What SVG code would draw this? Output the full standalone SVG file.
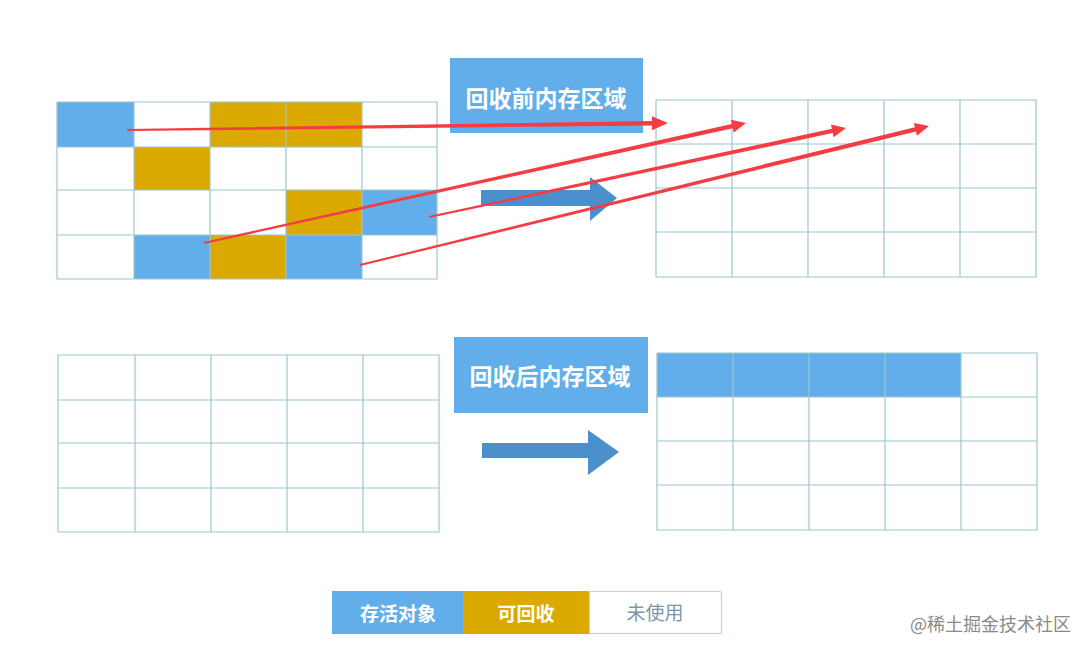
<svg xmlns="http://www.w3.org/2000/svg" width="1089" height="655" viewBox="0 0 1089 655">
<style>
.bg{fill:#ffffff}
.live{fill:#62aeea}
.gc{fill:#dba900}
.grid{fill:none;stroke:#9cc6d0;stroke-width:1.2}
.lbl{fill:#62aeea}
.lt{font-family:"Noto Sans CJK SC","Liberation Sans",sans-serif;font-weight:bold;fill:#ffffff;text-anchor:middle;dominant-baseline:central}
.leg{font-family:"Noto Sans CJK SC","Liberation Sans",sans-serif;font-size:19px;text-anchor:middle;dominant-baseline:central}
.blue-arrow{fill:#4b90cd}
.red{fill:#f43c42}
</style>
<rect class="bg" x="0" y="0" width="1089" height="655"/>

<g id="grid-before-left">
<rect class="live" x="57" y="102" width="77" height="45"/>
<rect class="gc" x="210" y="102" width="76" height="45"/>
<rect class="gc" x="286" y="102" width="76" height="45"/>
<rect class="gc" x="134" y="147" width="76" height="43"/>
<rect class="gc" x="286" y="190" width="76" height="45"/>
<rect class="live" x="362" y="190" width="75" height="45"/>
<rect class="live" x="134" y="235" width="76" height="44"/>
<rect class="gc" x="210" y="235" width="76" height="44"/>
<rect class="live" x="286" y="235" width="76" height="44"/>
<path class="grid" d="M57 102H437V279H57Z M57 147H437 M57 190H437 M57 235H437 M134 102V279 M210 102V279 M286 102V279 M362 102V279"/>
</g>

<g id="grid-before-right">
<path class="grid" d="M656 100H1036V277H656Z M656 144H1036 M656 188H1036 M656 232H1036 M732 100V277 M808 100V277 M884 100V277 M960 100V277"/>
</g>

<g id="grid-after-left">
<path class="grid" d="M58 355H439V532H58Z M58 400H439 M58 443H439 M58 488H439 M135 355V532 M211 355V532 M287 355V532 M363 355V532"/>
</g>

<g id="grid-after-right">
<rect class="live" x="657" y="353" width="304" height="44"/>
<path class="grid" d="M657 353H1037V530H657Z M657 397H1037 M657 441H1037 M657 485H1037 M733 353V530 M809 353V530 M885 353V530 M961 353V530"/>
</g>

<g id="label-before">
<rect class="lbl" x="450" y="58" width="193" height="75"/>
<text class="lt" x="546" y="97" font-size="23">回收前内存区域</text>
</g>

<g id="label-after">
<rect class="lbl" x="454" y="337" width="194" height="76"/>
<text class="lt" x="550" y="375" font-size="23">回收后内存区域</text>
</g>

<g id="connectors">
<path class="blue-arrow" d="M481 190H590V177L617 198L590 221V206H481Z"/>
<path class="blue-arrow" d="M482 443H588V430L619 452L588 475V458H482Z"/>
<path class="red" d="M127.01 131.0L652.03 125.41L652.09 130.2L668 123L651.91 116.21L651.97 121.01L126.99 129.0Z"/>
<path class="red" d="M204.22 243.98L732.81 128.18L733.74 132.38L746 123L730.92 119.68L731.85 123.88L203.78 242.02Z"/>
<path class="red" d="M429.21 217.98L832.77 133.07L833.67 137.28L846 128L830.95 124.56L831.85 128.77L428.79 216.02Z"/>
<path class="red" d="M360.24 265.97L915.92 131.46L916.94 135.63L929 126L913.86 123.01L914.88 127.18L359.76 264.03Z"/>
</g>

<g id="legend">
<rect class="live" x="332" y="591" width="131" height="43"/>
<rect class="gc" x="463" y="591" width="126" height="43"/>
<rect x="589.5" y="591.5" width="132" height="42" fill="#ffffff" stroke="#b8d6e4" stroke-width="1.2" rx="2"/>
<text class="leg" x="398" y="612" fill="#ffffff" font-weight="bold">存活对象</text>
<text class="leg" x="526" y="612" fill="#ffffff" font-weight="bold">可回收</text>
<text class="leg" x="655" y="611" fill="#7d95a8">未使用</text>
</g>

<text x="910" y="623" font-family="Noto Sans CJK SC,Liberation Sans,sans-serif" font-size="18" fill="#8a8a8a" dominant-baseline="central">@稀土掘金技术社区</text>
</svg>
